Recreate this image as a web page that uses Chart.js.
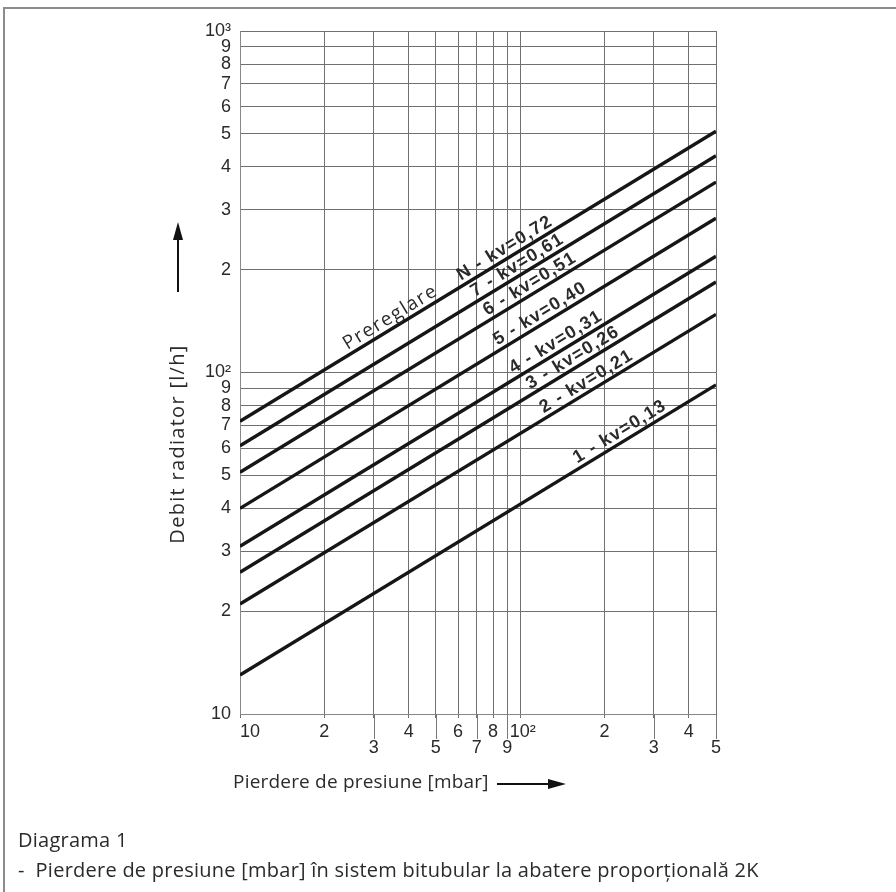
<!doctype html>
<html>
<head>
    <meta charset="UTF-8"/>
    <title>Diagrama 1</title>
    <style type="text/css">
        body {
            margin: 0;
            padding: 0;
            background: #fff;
            font-family: 'Open Sans', sans-serif;
        }
        .page {
            position: relative;
            width: 896px;
            height: 892px;
            overflow: hidden;
        }
        .frame {
            position: absolute;
            left: 3px;
            top: 7px;
            width: 900px;
            height: 900px;
            border-left: 2px solid #8c8c8c;
            border-top: 2px solid #8c8c8c;
        }
        canvas {
            position: absolute;
            left: 0;
            top: 0;
        }
        .caption {
            position: absolute;
            left: 18px;
            font-size: 20px;
            letter-spacing: 0.25px;
            color: #2a2a2a;
            white-space: nowrap;
        }
    </style>
</head>
<body>
<div class="page">
    <div class="frame"></div>
    <canvas id="chart" width="896" height="892"></canvas>
    <div class="caption" style="top:826px">Diagrama 1</div>
    <div class="caption" style="top:856px">-&nbsp; Pierdere de presiune [mbar] în sistem bitubular la abatere proporțională 2K</div>
</div>

<script src="https://cdn.jsdelivr.net/npm/chart.js"></script>
<script>
    // pressure drop at the two ends of every line [mbar]
    const pressure = [10, 500];
    // presetting curves
    const presets = ['N', '7', '6', '5', '4', '3', '2', '1'];
    const kvValues = ['0,72', '0,61', '0,51', '0,40', '0,31', '0,26', '0,21', '0,13'];
    // radiator flow [l/h] read at 10 mbar and at 500 mbar
    const flowAt10 = [72, 61, 51, 40, 31, 26, 21, 13];
    const flowAt500 = [509, 431, 361, 283, 219, 184, 148, 92];

    // ticks
    const xTickValues = [10, 20, 30, 40, 50, 60, 70, 80, 90, 100, 200, 300, 400, 500];
    const xTickLabels = ['    10', '2', ['', '3'], '4', ['', '5'], '6', ['', '7'], '8', ['', '9'], ' 10²', '2', ['', '3'], '4', ['', '5']];
    const yTickValues = [10, 20, 30, 40, 50, 60, 70, 80, 90, 100, 200, 300, 400, 500, 600, 700, 800, 900, 1000];
    const yTickLabels = ['10', '2', '3', '4', '5', '6', '7', '8', '9', '10²', '2', '3', '4', '5', '6', '7', '8', '9', '10³'];

    // where along each curve its label sits (mbar)
    const labelAt = [92, 102, 113, 123, 140, 161, 180, 237];

    const tickFont = {family: 'Liberation Sans', size: 18, lineHeight: 0.9};
    const textColor = '#2a2a2a';

    const datasets = presets.map((p, i) => ({
        label: p,
        data: [
            {x: pressure[0], y: flowAt10[i]},
            {x: pressure[1], y: flowAt500[i]}
        ],
        borderColor: '#161616',
        borderWidth: 3.4,
        pointRadius: 0,
        fill: false
    }));

    function lineGeometry(chart, i, xVal) {
        const xs = chart.scales.x, ys = chart.scales.y;
        const x0 = xs.getPixelForValue(pressure[0]), y0 = ys.getPixelForValue(flowAt10[i]);
        const x1 = xs.getPixelForValue(pressure[1]), y1 = ys.getPixelForValue(flowAt500[i]);
        const px = xs.getPixelForValue(xVal);
        const t = (px - x0) / (x1 - x0);
        return {x: px, y: y0 + t * (y1 - y0), angle: Math.atan2(y1 - y0, x1 - x0)};
    }

    const decorations = {
        id: 'decorations',
        afterDraw(chart) {
            const ctx = chart.ctx;
            const xs = chart.scales.x;
            const bottom = chart.chartArea.bottom;
            ctx.save();

            // long ticks under the lowered x labels
            ctx.strokeStyle = '#777';
            ctx.lineWidth = 1;
            xTickValues.forEach((v, i) => {
                if (Array.isArray(xTickLabels[i])) {
                    const x = Math.round(xs.getPixelForValue(v)) + 0.5;
                    ctx.beginPath();
                    ctx.moveTo(x, bottom);
                    ctx.lineTo(x, bottom + 25);
                    ctx.stroke();
                }
            });

            // curve labels
            ctx.fillStyle = textColor;
            ctx.textAlign = 'center';
            ctx.textBaseline = 'alphabetic';
            presets.forEach((p, i) => {
                const g = lineGeometry(chart, i, labelAt[i]);
                ctx.save();
                ctx.translate(g.x, g.y);
                ctx.rotate(g.angle);
                ctx.font = 'bold 18px "Liberation Sans"';
                ctx.letterSpacing = '1.3px';
                ctx.fillText(p + ' - kv=' + kvValues[i], 0, -5);
                ctx.restore();
            });
            const g = lineGeometry(chart, 0, 36);
            ctx.save();
            ctx.translate(g.x, g.y);
            ctx.rotate(g.angle);
            ctx.font = '19px "Open Sans"';
            ctx.letterSpacing = '1.5px';
            ctx.fillText('Prereglare', 0, -5);
            ctx.restore();

            // axis titles and arrows
            ctx.font = '20px "Open Sans"';
            ctx.letterSpacing = '1.3px';
            ctx.save();
            ctx.translate(178, 444);
            ctx.rotate(-Math.PI / 2);
            ctx.textBaseline = 'middle';
            ctx.fillText('Debit radiator [l/h]', 0, 0);
            ctx.restore();

            ctx.font = '19px "Open Sans"';
            ctx.letterSpacing = '0.2px';
            ctx.textAlign = 'left';
            ctx.textBaseline = 'middle';
            ctx.fillText('Pierdere de presiune [mbar]', 233, 783);

            ctx.strokeStyle = '#111';
            ctx.fillStyle = '#111';
            ctx.lineWidth = 2;
            ctx.beginPath();
            ctx.moveTo(178, 292);
            ctx.lineTo(178, 236);
            ctx.stroke();
            ctx.beginPath();
            ctx.moveTo(178, 222);
            ctx.lineTo(183, 240);
            ctx.lineTo(173, 240);
            ctx.closePath();
            ctx.fill();

            ctx.beginPath();
            ctx.moveTo(497, 784);
            ctx.lineTo(552, 784);
            ctx.stroke();
            ctx.beginPath();
            ctx.moveTo(566, 784);
            ctx.lineTo(548, 779);
            ctx.lineTo(548, 789);
            ctx.closePath();
            ctx.fill();

            ctx.restore();
        }
    };

    const config = {
        type: 'line',
        data: {datasets: datasets},
        options: {
            responsive: false,
            animation: false,
            layout: {padding: {top: 31, right: 180, bottom: 118, left: 0}},
            plugins: {
                legend: {display: false},
                tooltip: {enabled: false}
            },
            scales: {
                x: {
                    type: 'logarithmic',
                    min: 10,
                    max: 500,
                    afterBuildTicks: s => { s.ticks = xTickValues.map(v => ({value: v})); },
                    afterFit: s => { s.height = 60; },
                    ticks: {
                        autoSkip: false,
                        maxRotation: 0,
                        minRotation: 0,
                        padding: 6,
                        font: tickFont,
                        color: textColor,
                        callback: v => xTickLabels[xTickValues.indexOf(v)]
                    },
                    grid: {color: '#6f6f6f', lineWidth: 1, drawTicks: true, tickLength: 4},
                    border: {color: '#888', width: 1}
                },
                y: {
                    type: 'logarithmic',
                    min: 10,
                    max: 1000,
                    afterBuildTicks: s => { s.ticks = yTickValues.map(v => ({value: v})); },
                    afterFit: s => { s.width = 240; },
                    ticks: {
                        autoSkip: false,
                        padding: 9,
                        font: tickFont,
                        color: textColor,
                        callback: v => yTickLabels[yTickValues.indexOf(v)]
                    },
                    grid: {color: '#6f6f6f', lineWidth: 1, drawTicks: false},
                    border: {color: '#888', width: 1}
                }
            }
        },
        plugins: [decorations]
    };

    const myChart = new Chart(document.getElementById('chart'), config);
</script>
</body>
</html>
